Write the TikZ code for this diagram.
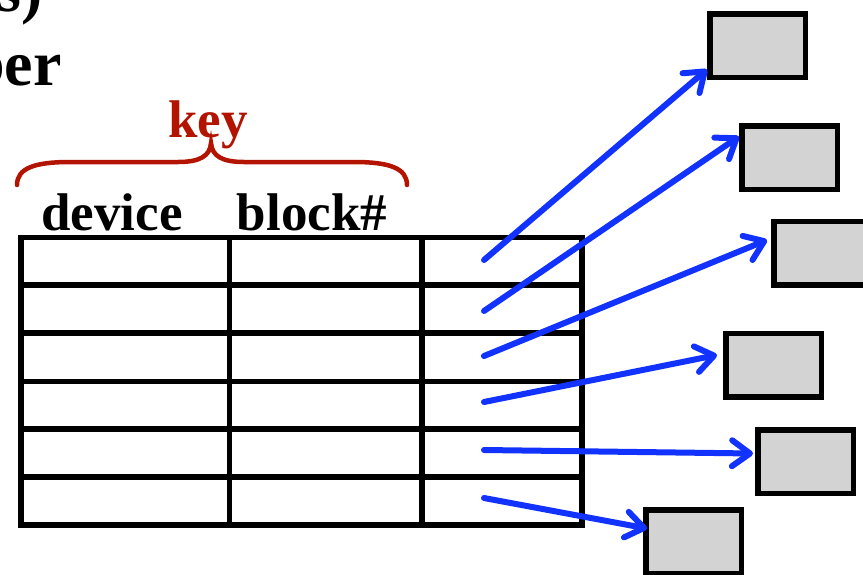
\documentclass[tikz,border=0pt]{standalone}
\usepackage{fontspec}
\setmainfont{Liberation Serif}
\usetikzlibrary{arrows.meta,calc}
\definecolor{keyred}{RGB}{178,20,0}
\definecolor{ptrblue}{RGB}{18,50,255}
\definecolor{blockgray}{RGB}{211,211,211}
\begin{document}
\begin{tikzpicture}[x=1pt,y=-1pt,
  label/.style={font=\bfseries\fontsize{53}{60}\selectfont, inner sep=0pt},
  title/.style={font=\bfseries\fontsize{64}{70}\selectfont, inner sep=0pt},
  grid/.style={line width=5.5pt, black},
  blockbox/.style={draw=black, line width=5.5pt, fill=blockgray,
    minimum width=95.5pt, minimum height=63.5pt, inner sep=0pt, outer sep=auto},
  ptr/.style={ptrblue, line width=6pt, line cap=round,
    -{Straight Barb[length=18pt, width=26pt, line cap=round, line join=round]}}]
\useasboundingbox (0,0) rectangle (863,574);

% heading fragments
\node[title, anchor=base east] (t1) at (43,11) {s)};
\node[title, anchor=base east] (t2) at (62,85) {ber};

% key brace and labels
\node[label, keyred, anchor=base] (key) at (208,137) {key};
\draw[keyred, line width=4.5pt, line cap=round]
  (17,185) .. controls (17,168) and (35,162) .. (70,162) -- (178,162)
  .. controls (200,162) and (210,156) .. (211,143)
  .. controls (212,156) and (222,162) .. (244,162) -- (354,162)
  .. controls (389,162) and (407,168) .. (407,185);
\node[label, anchor=base] (dev) at (112,230) {device};
\node[label, anchor=base] (blk) at (312,230) {block\#};

% hash table
\draw[grid] (21,237.5) rectangle (582,525);
\foreach \y in {285,333,381.5,429,477} \draw[grid] (21,\y) -- (582,\y);
\draw[grid] (229.5,237.5) -- (229.5,525);
\draw[grid] (422,237.5) -- (422,525);

% pointer origins
\coordinate (s1) at (484,260);
\coordinate (s2) at (484,311);
\coordinate (s3) at (484,356);
\coordinate (s4) at (484,402);
\coordinate (s5) at (484,450);
\coordinate (s6) at (484,498);

% cached blocks
\node[blockbox] (b1) at (757.5,45.5) {};
\node[blockbox] (b2) at (789.5,157.5) {};
\node[blockbox] (b3) at (821.5,253) {};
\node[blockbox] (b4) at (773.5,365) {};
\node[blockbox] (b5) at (805.5,461.5) {};
\node[blockbox] (b6) at (693.5,541.5) {};

% pointers
\draw[ptr] (s1) -- ($(b1.west)+(0,24)$);
\draw[ptr] (s2) -- ($(b2.west)+(0,-21)$);
\draw[ptr] (s3) -- ($(b3.west)+(-4,-13)$);
\draw[ptr] (s4) -- ($(b4.west)+(-6,-10)$);
\draw[ptr] (s5) -- ($(b5.west)+(-2,-8)$);
\draw[ptr] (s6) -- ($(b6.west)+(4,-13)$);
\end{tikzpicture}
\end{document}
